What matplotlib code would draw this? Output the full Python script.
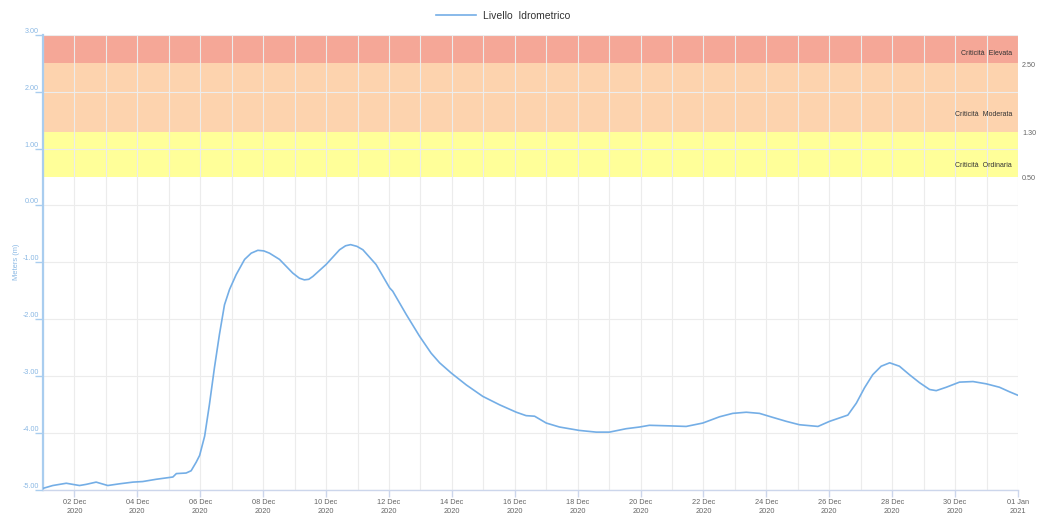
import matplotlib
matplotlib.use("Agg")
import matplotlib.pyplot as plt
import matplotlib.dates as mdates
import matplotlib.transforms as mtransforms
import pandas as pd

plt.rcParams['font.family'] = ['Liberation Sans', 'DejaVu Sans']

# ---- data ----
start_date = "2020-12-01"
days_since_start = [0.00, 0.31, 0.74, 1.16, 1.37, 1.69, 2.06, 2.43, 2.86, 3.17, 3.60,
                    4.13, 4.24, 4.55, 4.71, 4.87, 4.98, 5.14, 5.29, 5.45, 5.61, 5.77,
                    5.93, 6.14, 6.41, 6.62, 6.83, 7.02, 7.20, 7.52, 7.94, 8.15, 8.31,
                    8.45, 8.58, 9.00, 9.43, 9.62, 9.78, 9.98, 10.17, 10.59, 11.02, 11.12,
                    11.55, 11.97, 12.34, 12.61, 12.98,
                    13.46, 13.98, 14.52, 15.05, 15.36, 15.63, 16.00, 16.42, 17.05, 17.59,
                    18.01, 18.54, 18.97, 19.28, 19.92, 20.45, 20.98, 21.51, 21.93, 22.36,
                    22.78, 23.20, 23.63, 24.05, 24.64, 25.01, 25.59, 25.86, 26.12, 26.38,
                    26.65, 26.92, 27.23, 27.55, 27.87, 28.19, 28.40, 28.72, 29.14, 29.57,
                    29.99, 30.41, 30.73, 30.99]
level_m = [-4.98, -4.93, -4.89, -4.93, -4.91, -4.87, -4.93, -4.90, -4.87, -4.86, -4.82,
           -4.78, -4.72, -4.71, -4.67, -4.52, -4.40, -4.06, -3.51, -2.86, -2.27, -1.75,
           -1.48, -1.22, -0.95, -0.84, -0.79, -0.80, -0.84, -0.95, -1.19, -1.28, -1.31,
           -1.30, -1.25, -1.04, -0.78, -0.71, -0.69, -0.72, -0.78, -1.04, -1.45, -1.51,
           -1.92, -2.30, -2.60, -2.77, -2.95,
           -3.16, -3.36, -3.51, -3.64, -3.70, -3.71, -3.83, -3.90, -3.96, -3.99,
           -3.99, -3.93, -3.90, -3.87, -3.88, -3.89, -3.83, -3.72, -3.66, -3.64,
           -3.66, -3.73, -3.80, -3.86, -3.89, -3.80, -3.69, -3.48, -3.21, -2.98,
           -2.83, -2.77, -2.83, -2.98, -3.12, -3.24, -3.26, -3.20, -3.11, -3.10,
           -3.14, -3.20, -3.28, -3.34]

band_names = ["Criticità  Ordinaria", "Criticità  Moderata", "Criticità  Elevata"]
band_low = [0.5, 1.3, 2.5]
band_high = [1.3, 2.5, 3.0]
band_colors = ["#FFFF99", "#FDD3AE", "#F5A797"]
band_label_y = [0.70, 1.60, 2.68]
threshold_labels = ["0.50", "1.30", "2.50"]
threshold_values = [0.5, 1.3, 2.5]

y_ticks = [-5, -4, -3, -2, -1, 0, 1, 2, 3]
series_name = "Livello  Idrometrico"

# ---- figure ----
W, H = 1054, 514
fig = plt.figure(figsize=(W / 100, H / 100), dpi=100)
left, right, top, bottom = 43, 1018, 35, 489.5
ax = fig.add_axes([left / W, (H - bottom) / H, (right - left) / W, (bottom - top) / H])

t0 = pd.Timestamp(start_date)
times = [t0 + pd.Timedelta(days=d) for d in days_since_start]

line_color = "#74aee6"
ax.plot(times, level_m, color=line_color, lw=1.2, zorder=5, label=series_name,
        solid_joinstyle="round")

for lo, hi, c in zip(band_low, band_high, band_colors):
    ax.axhspan(lo, hi, color=c, lw=0, zorder=0)

ax.set_xlim(t0, pd.Timestamp("2021-01-01"))
ax.set_ylim(-5, 3)

major = list(pd.date_range("2020-12-02", "2021-01-01", freq="2D"))
ax.set_xticks(major)
ax.xaxis.set_major_formatter(mdates.DateFormatter("%d %b\n%Y"))
ax.xaxis.set_minor_locator(mdates.DayLocator())
ax.set_yticks(y_ticks)
ax.set_yticklabels([f"{v:.2f}" for v in y_ticks])
grid_color = "#ececec"
ax.xaxis.grid(True, which="both", color=grid_color, lw=0.8, zorder=1)
ax.yaxis.grid(True, which="major", color=grid_color, lw=0.8, zorder=1)
for gl in ax.get_xgridlines() + ax.get_ygridlines():
    gl.set_zorder(1)

for s in ["top", "right"]:
    ax.spines[s].set_visible(False)
ax.spines["left"].set_color("#a9cdef")
ax.spines["left"].set_linewidth(1.6)
ax.spines["bottom"].set_color("#ccd6eb")
ax.spines["bottom"].set_linewidth(1)

ax.tick_params(axis="y", colors="#a9cdef", labelcolor="#8ab8e4", labelsize=5.2,
               length=6, width=1, pad=-3)
for lab in ax.get_yticklabels():
    lab.set_va("bottom")
ax.tick_params(axis="x", which="major", colors="#ccd6eb", labelcolor="#666666",
               labelsize=5.3, length=5, width=1, pad=2)
ax.tick_params(axis="x", which="minor", length=0)
for lab in ax.get_xticklabels():
    lab.set_linespacing(1.35)

ax.set_ylabel("Meters (m)", color="#8ab8e4", fontsize=5.4)
ax.yaxis.set_label_coords((20 - left) / (right - left), 0.5)

trans = mtransforms.blended_transform_factory(ax.transAxes, ax.transData)
for name, yl in zip(band_names, band_label_y):
    ax.text((1012 - left) / (right - left), yl, name, transform=trans, ha="right",
            va="center", fontsize=5, color="#333333", zorder=6)
for lab, v in zip(threshold_labels, threshold_values):
    ax.text((1022 - left) / (right - left), v - 0.03, lab, transform=trans, ha="left",
            va="center", fontsize=5.2, color="#666666", clip_on=False)

fig.legend(loc="center", bbox_to_anchor=(503 / W, 1 - 16 / H), frameon=False,
           fontsize=7.5, handlelength=3.8, handletextpad=0.7,
           labelcolor="#333333")

fig.savefig("out.png", dpi=100)
